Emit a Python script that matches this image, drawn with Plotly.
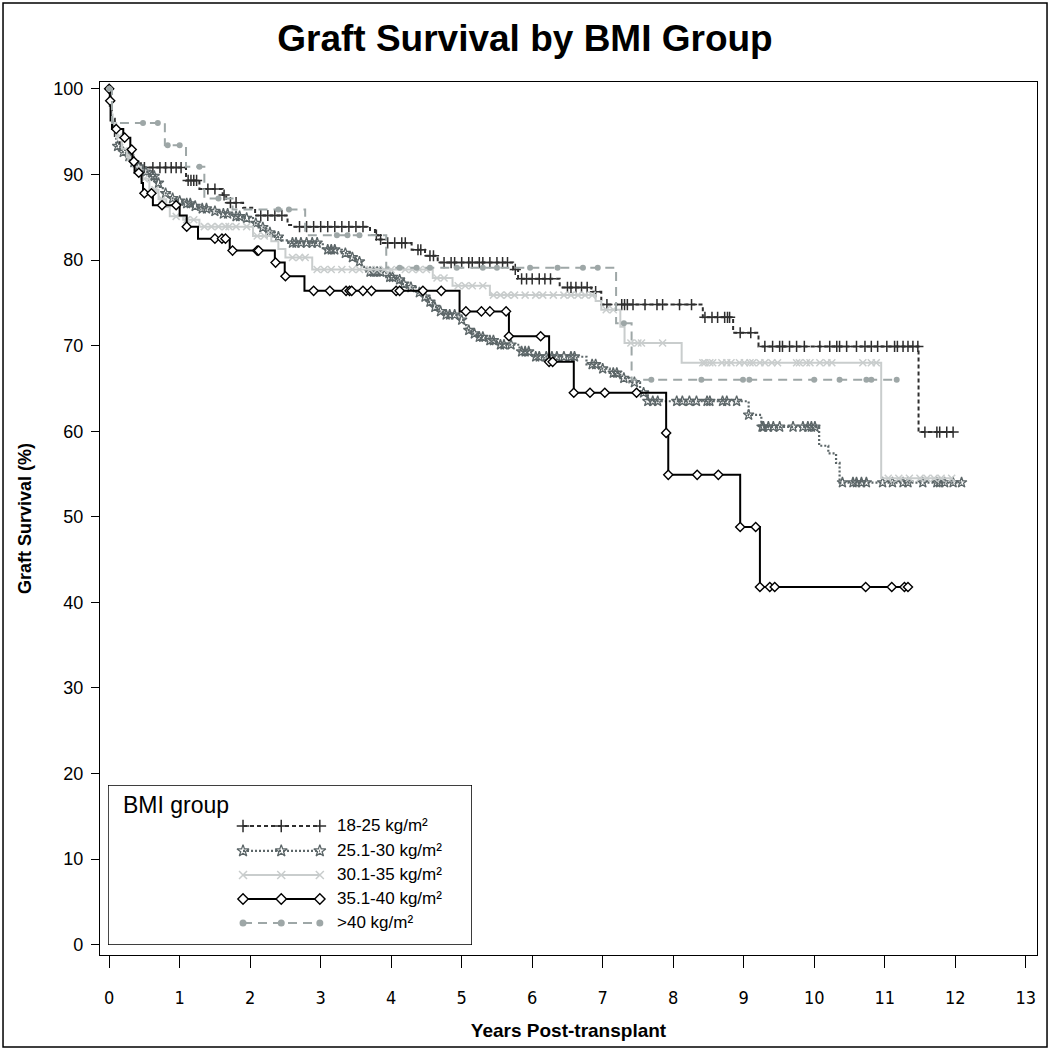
import numpy as np
import plotly.graph_objects as go

# ---- data (years, survival %) ----
groups = ["18-25 kg/m²", "25.1-30 kg/m²", "30.1-35 kg/m²", "35.1-40 kg/m²", ">40 kg/m²"]

t_1825 = [0, 0.02, 0.04, 0.08, 0.15, 0.25, 0.35, 0.45, 1.09, 1.28, 1.61, 1.66, 1.9, 2.07, 2.53, 2.6,
          3.7, 3.77, 3.82, 3.88, 4.29, 4.48, 4.66, 5.73, 5.8, 6.39, 6.84, 6.98, 8.42, 8.85, 9.21, 11.48]
s_1825 = [100, 98.5, 96.5, 94.5, 93.0, 92.0, 91.5, 90.8, 89.3, 88.3, 87.6, 86.7, 86.1, 85.2, 84.1, 83.9,
          83.5, 82.9, 82.4, 82.0, 81.2, 80.5, 79.7, 78.9, 77.8, 76.8, 76.3, 74.8, 73.3, 71.5, 69.9, 59.9]
end_1825 = 12.0
c_1825 = [0.5, 0.62, 0.72, 0.8, 0.88, 0.95, 1.02, 1.12, 1.16, 1.2, 1.24, 1.4, 1.5, 1.63, 1.72, 1.8,
          2.15, 2.25, 2.35, 2.45, 2.7, 2.8, 2.9, 3.0, 3.1, 3.2, 3.3, 3.4, 3.5, 3.6, 3.79, 3.85, 3.95,
          4.05, 4.15, 4.2, 4.38, 4.42, 4.55, 4.6, 4.75, 4.85, 4.9, 5.0, 5.1, 5.15, 5.25, 5.3, 5.4,
          5.5, 5.58, 5.65, 5.76, 5.85, 5.92, 6.0, 6.1, 6.18, 6.26, 6.5, 6.55, 6.62, 6.7, 6.78, 6.9,
          7.06, 7.27, 7.31, 7.35, 7.43, 7.6, 7.77, 7.85, 8.09, 8.26, 8.45, 8.55, 8.63, 8.73, 8.77,
          8.8, 8.95, 9.1, 9.3, 9.41, 9.51, 9.55, 9.65, 9.75, 9.86, 10.08, 10.22, 10.32, 10.36, 10.46,
          10.6, 10.72, 10.81, 10.9, 11.03, 11.14, 11.18, 11.26, 11.33, 11.4, 11.47, 11.57, 11.74,
          11.78, 11.88, 11.97]

t_2530 = [0, 0.01, 0.03, 0.06, 0.1, 0.17, 0.24, 0.32, 0.39, 0.48, 0.57, 0.67, 0.72, 0.76, 0.86, 0.95,
          1.05, 1.18, 1.28, 1.45, 1.57, 1.75, 1.9, 2.04, 2.12, 2.23, 2.35, 2.45, 2.52, 3.03, 3.3, 3.42,
          3.5, 3.58, 3.65, 3.93, 4.08, 4.15, 4.22, 4.35, 4.45, 4.52, 4.59, 4.66, 4.73, 4.97, 5.03,
          5.07, 5.14, 5.21, 5.35, 5.5, 5.82, 6.0, 6.77, 6.95, 7.1, 7.25, 7.38, 7.53, 7.64, 9.07, 9.25,
          10.07, 10.2, 10.31, 10.36]
s_2530 = [100, 98.0, 96.5, 95.0, 93.3, 92.6, 92.1, 91.4, 90.9, 90.3, 89.8, 89.0, 88.4, 87.8, 87.2, 86.9,
          86.6, 86.3, 86.0, 85.7, 85.4, 85.1, 84.9, 84.3, 83.8, 83.2, 82.7, 82.3, 82.0, 81.2, 80.8, 80.3,
          79.8, 79.2, 78.6, 78.0, 77.7, 77.2, 76.8, 76.2, 75.7, 75.1, 74.5, 74.0, 73.6, 73.0, 72.4,
          71.8, 71.4, 71.0, 70.6, 70.1, 69.3, 68.7, 67.8, 67.3, 66.8, 66.2, 65.7, 64.5, 63.5, 61.9, 60.5,
          58.3, 57.4, 56.3, 54.0]
end_2530 = 12.1
c_2530 = [0.12, 0.2, 0.28, 0.35, 0.42, 0.52, 0.6, 0.64, 0.7, 0.8, 0.9, 1.0, 1.1, 1.15, 1.22, 1.32,
          1.38, 1.5, 1.62, 1.68, 1.8, 1.85, 1.95, 2.08, 2.18, 2.28, 2.4, 2.6, 2.65, 2.72, 2.8, 2.88,
          2.95, 3.1, 3.15, 3.2, 3.35, 3.45, 3.55, 3.7, 3.75, 3.8, 3.85, 3.98, 4.02, 4.12, 4.18, 4.28,
          4.4, 4.48, 4.55, 4.62, 4.7, 4.78, 4.83, 4.9, 5.0, 5.1, 5.18, 5.25, 5.3, 5.4, 5.45, 5.55,
          5.6, 5.7, 5.85, 5.9, 5.95, 6.05, 6.1, 6.2, 6.28, 6.35, 6.45, 6.55, 6.6, 6.85, 6.9, 7.0,
          7.15, 7.2, 7.3, 7.45, 7.58, 7.64, 7.71, 7.78, 8.05, 8.13, 8.23, 8.33, 8.48, 8.52, 8.7,
          8.76, 8.9, 9.07, 9.26, 9.28, 9.35, 9.42, 9.51, 9.7, 9.84, 9.91, 9.96, 10.01, 10.4, 10.55,
          10.6, 10.67, 10.74, 10.97, 11.11, 11.26, 11.33, 11.54, 11.74, 11.78, 11.85, 11.97, 12.09]

t_3035 = [0, 0.01, 0.03, 0.05, 0.1, 0.18, 0.25, 0.34, 0.45, 0.57, 0.7, 0.81, 0.86, 1.05, 1.28, 2.04,
          2.3, 2.4, 2.5, 2.88, 4.59, 4.87, 5.4, 6.9, 6.98, 7.25, 7.31, 8.12, 10.95]
s_3035 = [100, 98.5, 97.0, 96.0, 94.5, 93.0, 92.0, 90.9, 89.5, 88.2, 87.1, 86.2, 85.1, 84.7, 83.9, 82.8,
          82.2, 81.3, 80.3, 78.9, 77.9, 77.0, 75.9, 75.2, 74.2, 72.2, 70.3, 68.0, 54.5]
end_3035 = 11.95
c_3035 = [0.15, 0.3, 0.5, 0.65, 0.75, 0.95, 1.1, 1.2, 1.35, 1.45, 1.55, 1.65, 1.7, 1.8, 1.95, 2.1,
          2.2, 2.6, 2.7, 2.78, 2.95, 3.05, 3.15, 3.3, 3.45, 3.55, 3.7, 3.8, 3.9, 4.0, 4.2, 4.3, 4.4,
          4.5, 4.65, 4.75, 4.95, 5.05, 5.15, 5.3, 5.45, 5.55, 5.65, 5.75, 5.9, 6.05, 6.15, 6.3,
          6.45, 6.55, 6.65, 6.75, 6.85, 7.05, 7.15, 7.4, 7.5, 7.55, 7.85, 8.42, 8.45, 8.52, 8.56,
          8.69, 8.76, 8.82, 8.94, 9.01, 9.09, 9.13, 9.23, 9.3, 9.4, 9.48, 9.75, 9.79, 9.89, 9.94,
          10.08, 10.18, 10.25, 10.69, 10.81, 10.88, 11.05, 11.2, 11.35, 11.5, 11.6, 11.7, 11.8, 11.95]

t_3540 = [0, 0.01, 0.02, 0.04, 0.2, 0.3, 0.33, 0.36, 0.46, 0.48, 0.62, 1.0, 1.1, 1.26, 1.71, 2.35,
          2.49, 2.77, 4.97, 5.67, 6.24, 6.59, 7.9, 7.93, 8.95, 9.23]
s_3540 = [100, 98.6, 96.3, 95.3, 94.3, 92.9, 91.5, 90.2, 89.0, 87.8, 86.4, 85.2, 83.9, 82.5, 81.1, 79.7,
          78.1, 76.4, 74.0, 71.1, 68.1, 64.5, 59.8, 54.9, 48.8, 41.8]
end_3540 = 11.33
c_3540 = [0.0, 0.015, 0.1, 0.22, 0.32, 0.35, 0.42, 0.5, 0.6, 0.75, 0.95, 1.1, 1.5, 1.6, 1.65, 1.75,
          2.1, 2.12, 2.36, 2.5, 2.9, 3.13, 3.36, 3.41, 3.44, 3.6, 3.72, 4.07, 4.12, 4.45, 4.71,
          5.06, 5.28, 5.4, 5.63, 5.67, 6.12, 6.24, 6.29, 6.59, 6.82, 7.03, 7.48, 7.9, 7.93, 8.34,
          8.64, 8.95, 9.17, 9.23, 9.37, 9.44, 10.73, 11.1, 11.28, 11.33]

t_40 = [0, 0.04, 0.79, 1.09, 1.35, 1.75, 2.78, 3.93, 7.19, 7.41]
s_40 = [100, 96.0, 93.4, 90.9, 87.2, 85.9, 82.9, 79.1, 72.6, 66.0]
end_40 = 11.17
c_40 = [0.0, 0.48, 0.69, 0.83, 1.0, 1.28, 1.55, 2.4, 2.55, 3.23, 3.38, 3.55, 4.12, 4.36, 4.55, 4.93,
        5.3, 5.5, 5.97, 6.36, 6.72, 6.93, 7.3, 7.69, 8.4, 8.99, 9.08, 10.0, 10.36, 10.74, 10.81, 11.17]

x_ticks = list(range(0, 14))
y_ticks = list(range(0, 101, 10))

# ---- styling per group ----
styles = [
    dict(color="#2e2e2e", dash="4px,3px", width=2, symbol="cross-thin", size=8, fill="#2e2e2e", mline=1.5),
    dict(color="#5c6668", dash="2px,2px", width=2.2, symbol="star-open", size=8, fill="#5c6668", mline=1.3),
    dict(color="#c9cdcd", dash="solid", width=2, symbol="x-thin", size=7, fill="#c9cdcd", mline=1.5),
    dict(color="#000000", dash="solid", width=2, symbol="diamond", size=7, fill="white", mline=1.4),
    dict(color="#9ea7a7", dash="9px,6px", width=2, symbol="circle", size=6, fill="#9ea7a7", mline=0),
]

series = [
    (t_1825, s_1825, end_1825, c_1825),
    (t_2530, s_2530, end_2530, c_2530),
    (t_3035, s_3035, end_3035, c_3035),
    (t_3540, s_3540, end_3540, c_3540),
    (t_40, s_40, end_40, c_40),
]


def step_at(times, surv, t):
    i = np.searchsorted(times, t, side="right") - 1
    return np.asarray(surv)[i]


fig = go.Figure()

for name, (tt, ss, end, cc), st in zip(groups, series, styles):
    fig.add_trace(go.Scatter(
        x=list(tt) + [end], y=list(ss) + [ss[-1]], mode="lines", line_shape="hv",
        line=dict(color=st["color"], width=st["width"], dash=st["dash"]),
        name=name, showlegend=False, hoverinfo="skip"))
    cy = step_at(np.array(tt), ss, np.array(cc))
    fig.add_trace(go.Scatter(
        x=cc, y=cy, mode="markers", showlegend=False, name=name,
        marker=dict(symbol=st["symbol"], size=st["size"], color=st["fill"],
                    line=dict(color=st["color"], width=st["mline"]))))

# ---- hand-made legend (Stata-style box) on an overlay axis pair ----
row_y = [0.744, 0.588, 0.4375, 0.2875, 0.1375]
sample_x = [0.371, 0.476, 0.582]
for name, st, ry in zip(groups, styles, row_y):
    fig.add_trace(go.Scatter(
        x=sample_x, y=[ry] * 3, xaxis="x2", yaxis="y2", mode="lines+markers", showlegend=False,
        hoverinfo="skip",
        line=dict(color=st["color"], width=st["width"], dash=st["dash"]),
        marker=dict(symbol=st["symbol"], size=st["size"] + 1, color=st["fill"],
                    line=dict(color=st["color"], width=st["mline"]))))
    fig.add_annotation(x=0.624, y=ry, xref="x2", yref="y2", text=name, showarrow=False,
                       xanchor="left", yanchor="middle",
                       font=dict(family="Liberation Sans, Arial", size=17, color="black"))

fig.add_annotation(x=0.035, y=0.875, xref="x2", yref="y2", text="BMI group", showarrow=False,
                   xanchor="left", yanchor="middle",
                   font=dict(family="Liberation Sans, Arial", size=23, color="black"))

fig.add_shape(type="rect", xref="x2", yref="y2", x0=0, x1=1, y0=0, y1=1,
              line=dict(color="black", width=1.5), fillcolor="white", layer="below")

# outer frame around the whole graph
fig.add_shape(type="rect", xref="paper", yref="paper", x0=-0.1035, x1=1.0107, y0=-0.1054, y1=1.0905,
              line=dict(color="black", width=1.5))

fig.update_layout(
    width=1050, height=1050,
    margin=dict(l=100, r=13, t=82, b=95, autoexpand=False),
    paper_bgcolor="white", plot_bgcolor="white",
    title=dict(text="<b>Graft Survival by BMI Group</b>", x=0.5, xanchor="center", y=0.964,
               yanchor="middle", font=dict(family="Liberation Sans, Arial", size=37, color="black")),
    font=dict(family="Liberation Sans, Arial", color="black"),
    xaxis=dict(range=[-0.13, 13.16], tickvals=x_ticks, ticks="outside", ticklen=12, tickwidth=1,
               tickcolor="black", showline=True, linecolor="black", linewidth=1.2, mirror=True,
               showgrid=False, zeroline=False, ticklabelstandoff=14, automargin=False,
               tickfont=dict(family="Liberation Sans Narrow, DejaVu Sans Condensed, Liberation Sans", size=18),
               title=dict(text="<b>Years Post-transplant</b>", standoff=16,
                          font=dict(family="Liberation Sans Narrow, Liberation Sans", size=19))),
    yaxis=dict(range=[-1.2, 100.8], tickvals=y_ticks, ticks="outside", ticklen=8, tickwidth=1,
               tickcolor="black", showline=True, linecolor="black", linewidth=1.2, mirror=True,
               showgrid=False, zeroline=False, ticklabelstandoff=4, automargin=False,
               tickfont=dict(family="Liberation Sans, Arial", size=18),
               title=dict(text="<b>Graft Survival (%)</b>", standoff=16,
                          font=dict(family="Liberation Sans, Arial", size=18))),
    xaxis2=dict(domain=[0.0085, 0.397], range=[0, 1], visible=False, anchor="y2", fixedrange=True),
    yaxis2=dict(domain=[0.0115, 0.1947], range=[0, 1], visible=False, anchor="x2", fixedrange=True),
)

# the page body carries a default 8px margin; drop it so the figure sits at the window origin
fig.write_html("out.html", config={"displayModeBar": False},
               post_script="document.body.style.margin='0';")
